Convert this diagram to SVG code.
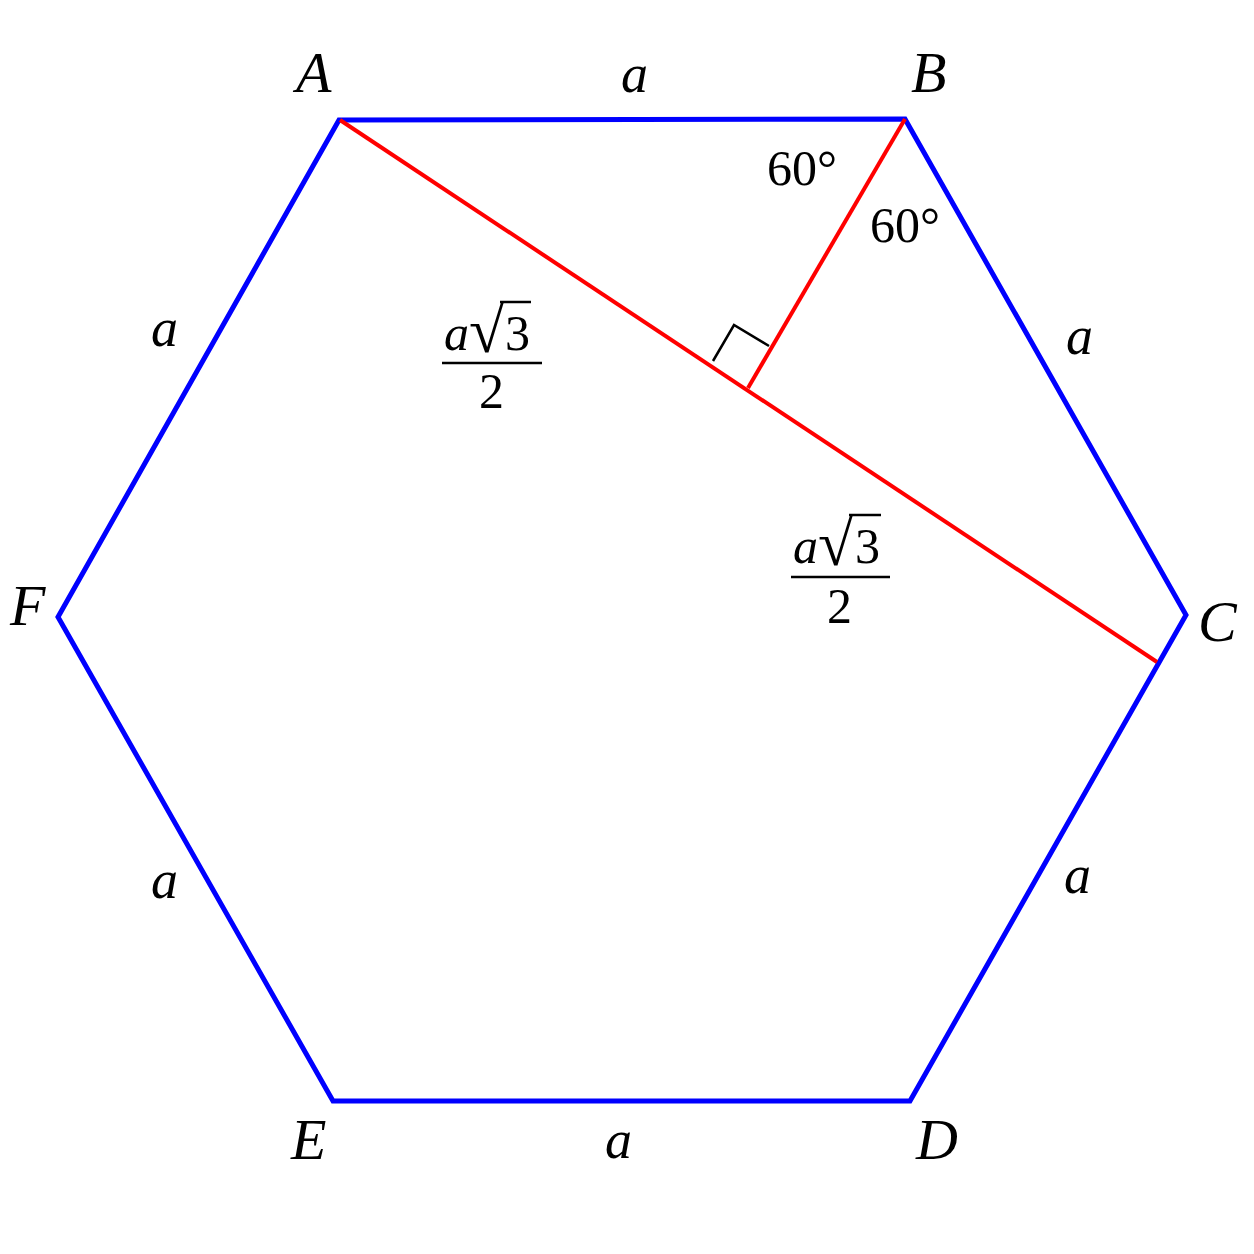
<svg xmlns="http://www.w3.org/2000/svg" width="1254" height="1254" viewBox="0 0 1254 1254">
<style>
.hex{fill:none;stroke:#0000ff;stroke-width:5;stroke-linejoin:miter}
.red{fill:none;stroke:#ff0000;stroke-width:4}
.ra{fill:none;stroke:#000;stroke-width:2.5}
.bar{stroke:#000;stroke-width:2.5}
.v{font-family:"Liberation Serif","Times New Roman",serif;font-style:italic;font-size:58px;fill:#000}
.s{font-family:"Liberation Serif","Times New Roman",serif;font-style:italic;font-size:54px;fill:#000}
.n{font-family:"Liberation Serif","Times New Roman",serif;font-size:50px;fill:#000}
.ni{font-family:"Liberation Serif","Times New Roman",serif;font-style:italic;font-size:50px;fill:#000}
.rad{font-family:"Liberation Serif","Times New Roman",serif;font-size:64px;fill:#000}
</style>
<rect width="1254" height="1254" fill="#fff"/>
<g id="hexagon">
<polygon class="hex" points="339,120 905,119 1186,615 910,1101 333,1101 58,617"/>
</g>
<g id="connectors">
<line class="red" x1="340" y1="120" x2="1157" y2="662"/>
<line class="red" x1="905" y1="119" x2="748" y2="388"/>
<polyline class="ra" points="713,361 734,325 769,346"/>
</g>
<g id="vertex-labels">
<text class="v" x="296" y="92">A</text>
<text class="v" x="911" y="92">B</text>
<text class="v" x="1198" y="641">C</text>
<text class="v" x="916" y="1159">D</text>
<text class="v" x="291" y="1159">E</text>
<text class="v" x="10" y="625">F</text>
</g>
<g id="side-labels">
<text class="s" x="621" y="92">a</text>
<text class="s" x="151" y="346">a</text>
<text class="s" x="1066" y="354">a</text>
<text class="s" x="151" y="898">a</text>
<text class="s" x="1064" y="893">a</text>
<text class="s" x="605" y="1158">a</text>
</g>
<g id="angle-labels">
<text class="n" x="767" y="185">60°</text>
<text class="n" x="870" y="242">60°</text>
</g>
<g id="fraction-1">
<text class="ni" x="444" y="350">a</text>
<text class="rad" x="469" y="352">√</text>
<line class="bar" x1="500" y1="302" x2="531" y2="302"/>
<text class="n" x="505" y="350">3</text>
<line class="bar" x1="442" y1="363" x2="542" y2="363"/>
<text class="n" x="479" y="408">2</text>
</g>
<g id="fraction-2">
<text class="ni" x="793" y="563">a</text>
<text class="rad" x="818" y="565">√</text>
<line class="bar" x1="849" y1="515" x2="881" y2="515"/>
<text class="n" x="855" y="563">3</text>
<line class="bar" x1="791" y1="577" x2="890" y2="577"/>
<text class="n" x="827" y="623">2</text>
</g>
</svg>
